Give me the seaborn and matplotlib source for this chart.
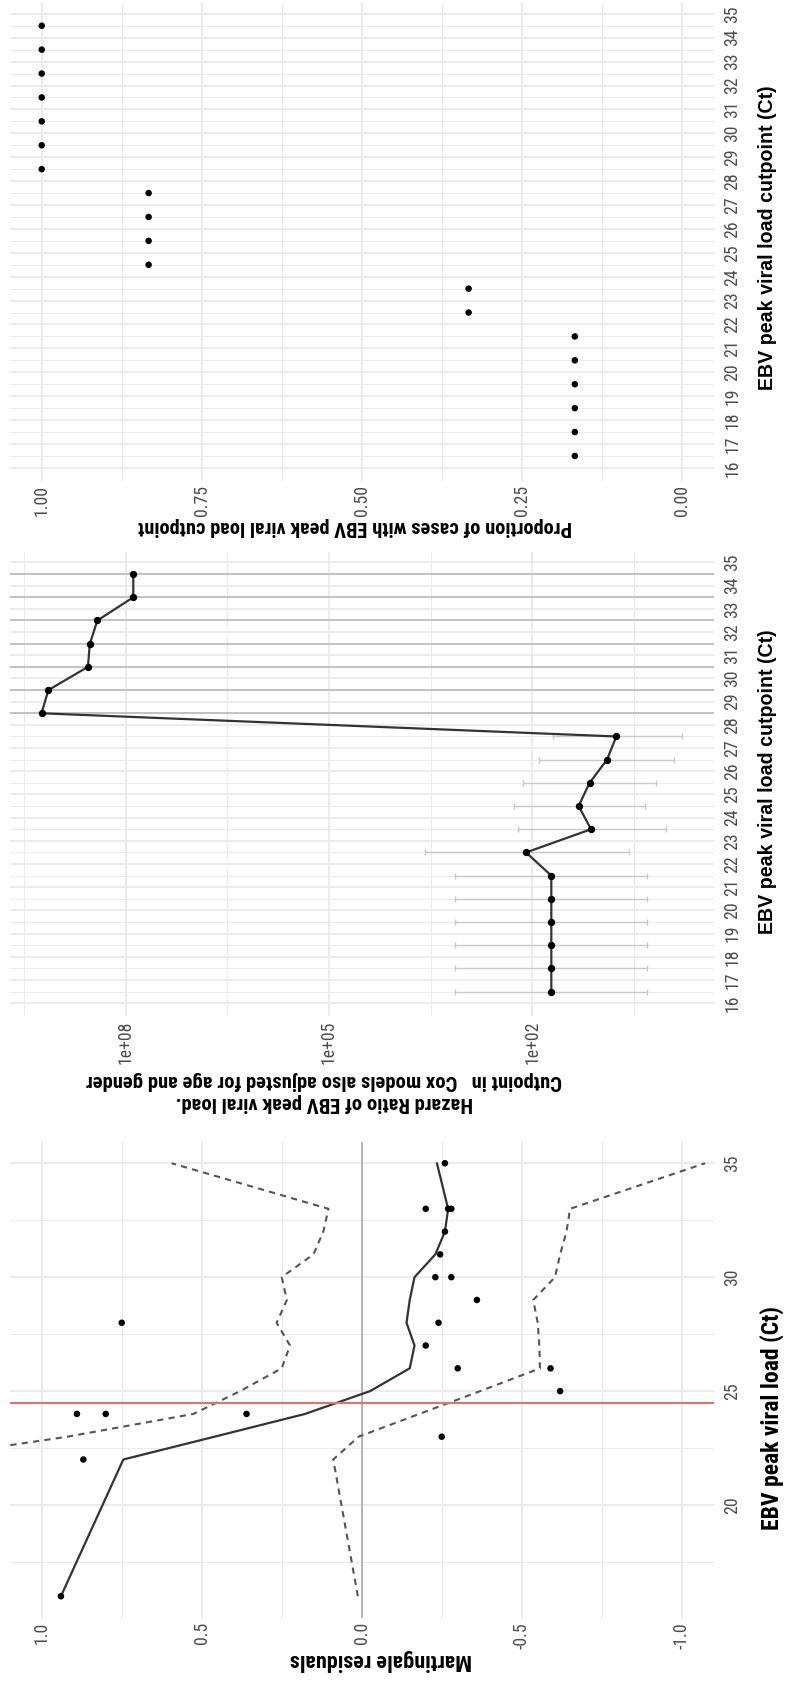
import os
import re
import numpy as np
import pandas as pd
import matplotlib
matplotlib.use('Agg')
import matplotlib.pyplot as plt
from matplotlib import font_manager
from matplotlib.font_manager import FontProperties
import seaborn as sns

# The source figure is a landscape, three-panel ggplot turned 90 degrees
# counter-clockwise, so Ct runs up the page and the response runs right-to-left.

# Panel 1: martingale residuals against EBV peak viral load
resid_ct = [16, 22, 23, 24, 24, 24, 25, 26, 26, 27, 28, 28, 29, 30, 30, 31, 32, 33, 33, 33, 35]
resid_val = [0.94, 0.87, -0.25, 0.89, 0.80, 0.36, -0.62, -0.30, -0.59, -0.20, 0.75, -0.24,
             -0.36, -0.23, -0.28, -0.245, -0.26, -0.20, -0.27, -0.28, -0.26]
smooth_ct = [16, 22, 23, 24, 25, 26, 27, 28, 29, 30, 31, 32, 33, 35]
smooth_fit = [0.94, 0.745, 0.46, 0.177, -0.026, -0.15, -0.165, -0.14, -0.15, -0.165, -0.23, -0.26, -0.27, -0.235]
smooth_upper = [1.87, 1.40, 0.92, 0.526, 0.38, 0.25, 0.224, 0.266, 0.234, 0.25, 0.151, 0.12, 0.104, 0.594]
smooth_lower = [0.012, 0.089, 0.01, -0.18, -0.37, -0.557, -0.555, -0.55, -0.536, -0.604, -0.62, -0.64, -0.651, -1.073]
cutpoint = 24.5
resid_ticks = [-1.0, -0.5, 0.0, 0.5, 1.0]
resid_labels = ['-1.0', '-0.5', '0.0', '0.5', '1.0']
ct_ticks = [20, 25, 30, 35]

# Panel 2: hazard ratio per cutpoint (NaN = unbounded interval)
cut_ct = [16.5, 17.5, 18.5, 19.5, 20.5, 21.5, 22.5, 23.5, 24.5, 25.5,
          26.5, 27.5, 28.5, 29.5, 30.5, 31.5, 32.5, 33.5, 34.5]
hr = [52.1, 52.1, 52.1, 52.1, 52.1, 52.1, 123, 13.5, 20.6, 14.2,
      7.85, 5.73, 1.74e9, 1.38e9, 3.6e8, 3.37e8, 2.61e8, 7.7e7, 7.7e7]
hr_low = [2.02, 2.02, 2.02, 2.02, 2.02, 2.02, 3.78, 1.06, 2.19, 1.47,
          0.80, 0.615, np.nan, np.nan, np.nan, np.nan, np.nan, np.nan, np.nan]
hr_high = [1358, 1358, 1358, 1358, 1358, 1358, 3846, 164, 188, 136,
           80, 50, np.nan, np.nan, np.nan, np.nan, np.nan, np.nan, np.nan]
hr_ticks = [1e2, 1e5, 1e8]
hr_labels = ['1e+02', '1e+05', '1e+08']
cut_ticks = [16, 17, 18, 19, 20, 21, 22, 23, 24, 25, 26, 27, 28, 29, 30, 31, 32, 33, 34, 35]

# Panel 3: proportion of cases above each cutpoint
prop = [0.167, 0.167, 0.167, 0.167, 0.167, 0.167, 0.333, 0.333, 0.833, 0.833,
        0.833, 0.833, 1.0, 1.0, 1.0, 1.0, 1.0, 1.0, 1.0]
prop_ticks = [0.0, 0.25, 0.5, 0.75, 1.0]
prop_labels = ['0.00', '0.25', '0.50', '0.75', '1.00']

sns.set_theme(style='white')
plt.rcParams['font.family'] = ['Liberation Sans', 'DejaVu Sans']


# look for a condensed sans file (tick labels and most titles are narrow in the reference)
def find_narrow(bold):
    skip = ('italic', 'oblique', 'light', 'thin', 'medium', 'black', 'semibold',
            'extrabold', 'extra', 'semi', 'ultra', 'heavy', 'mono')
    order = ['liberationsansnarrow', 'robotocondensed', 'notosans', 'dejavusans', 'opensans', 'arialnarrow']
    found = []
    for f in font_manager.fontManager.ttflist:
        base = os.path.basename(f.fname).lower().replace('_', '').replace('-', '')
        if not re.search('narrow|condensed', base):
            continue
        rest = base.replace('condensed', '').replace('narrow', '')
        if any(s in rest for s in skip):
            continue
        if ('bold' in rest) != bold:
            continue
        for i, key in enumerate(order):
            if base.startswith(key):
                found.append((i, f.fname))
    if found:
        return FontProperties(fname=sorted(found)[0][1])
    return FontProperties(family='Liberation Sans', weight='bold' if bold else 'normal')


fp_tick = find_narrow(False)
fp_cond = find_narrow(True)
fp_wide = FontProperties(family='Liberation Sans', weight='bold')

GRID = '#ebebeb'
TICK = '#4d4d4d'


def style_axis(ax, xticks, xlabels, yticks, ylabels, xminor, yminor):
    for s in ax.spines.values():
        s.set_visible(False)
    ax.set_xticks(xticks, xlabels, fontproperties=fp_tick, rotation=90, ha='center', va='top')
    ax.set_yticks(yticks, [str(t) for t in ylabels], fontproperties=fp_tick, rotation=90,
                  ha='left', va='center')
    ax.set_xticks(xminor, minor=True)
    ax.set_yticks(yminor, minor=True)
    ax.grid(True, which='major', color=GRID, lw=1.3)
    ax.grid(True, which='minor', color=GRID, lw=0.7)
    ax.set_axisbelow(True)
    ax.yaxis.tick_right()
    ax.tick_params(axis='both', which='both', length=0, colors=TICK)
    ax.tick_params(axis='y', pad=7)
    ax.tick_params(axis='x', pad=3)


def set_titles(ax, xtitle, xpos, ytitle, ypos, yfp):
    ax.set_xlabel(xtitle, rotation=180, fontproperties=fp_cond, color='black',
                  va='center', ha='center', multialignment='center', linespacing=1.2)
    ax.xaxis.set_label_coords(*xpos)
    ax.yaxis.set_label_position('right')
    ax.set_ylabel(ytitle, rotation=90, fontproperties=yfp, color='black', va='center', ha='center')
    ax.yaxis.set_label_coords(*ypos)


fig = plt.figure(figsize=(7.85, 16.95), dpi=100)
L, W = 0.0124, 0.8968
ax3 = fig.add_axes([L, 0.7162, W, 0.2820])
ax2 = fig.add_axes([L, 0.4006, W, 0.2737])
ax1 = fig.add_axes([L, 0.0455, W, 0.2810])

# ---- Panel 1
df_res = pd.DataFrame({'ct': resid_ct, 'resid': resid_val})
df_sm = pd.DataFrame({'ct': smooth_ct, 'fit': smooth_fit, 'upper': smooth_upper, 'lower': smooth_lower})
ax1.axvline(0, color='#aaaaaa', lw=1.2, zorder=1)
sns.lineplot(data=df_sm, x='upper', y='ct', orient='y', ax=ax1, color='#555555', lw=1.5,
             linestyle=(0, (3, 2.5)))
sns.lineplot(data=df_sm, x='lower', y='ct', orient='y', ax=ax1, color='#555555', lw=1.5,
             linestyle=(0, (3, 2.5)))
sns.lineplot(data=df_sm, x='fit', y='ct', orient='y', ax=ax1, color='#333333', lw=1.6)
sns.scatterplot(data=df_res, x='resid', y='ct', ax=ax1, color='black', s=22, edgecolor='none', zorder=5)
ax1.axhline(cutpoint, color='#d27a71', lw=1.6, zorder=4)
ax1.set_xlim(1.1, -1.1)
ax1.set_ylim(15.05, 35.95)
style_axis(ax1, resid_ticks, resid_labels, ct_ticks, ct_ticks,
           [-0.75, -0.25, 0.25, 0.75], [17.5, 22.5, 27.5, 32.5])
set_titles(ax1, 'Martingale residuals', (0.527, -0.088),
           'EBV peak viral load (Ct)', (1.083, 0.42), fp_cond)

# ---- Panel 2
df_hr = pd.DataFrame({'ct': cut_ct, 'hr': hr, 'low': hr_low, 'high': hr_high})
ax2.set_xscale('log')
fin = df_hr.dropna()
inf = df_hr[df_hr['low'].isna()]
for c in inf['ct']:
    ax2.axhline(c, color='#c2c2c2', lw=1.4, zorder=2)
ax2.errorbar(fin['hr'], fin['ct'], xerr=[fin['hr'] - fin['low'], fin['high'] - fin['hr']],
             fmt='none', ecolor='#c8c8c8', elinewidth=1.0, capsize=2.5, capthick=1.0, zorder=2)
sns.lineplot(data=df_hr, x='hr', y='ct', orient='y', ax=ax2, color='#333333', lw=1.6,
             marker='o', markersize=4.5, markeredgecolor='black', markerfacecolor='black', zorder=4)
ax2.set_xlim(10 ** 9.71, 10 ** -0.68)
ax2.set_ylim(15.45, 35.45)
style_axis(ax2, hr_ticks, hr_labels, cut_ticks, cut_ticks,
           [10 ** 0.5, 10 ** 3.5, 10 ** 6.5, 10 ** 9.5], [c for c in cut_ct])
ax2.xaxis.set_minor_formatter(matplotlib.ticker.NullFormatter())
set_titles(ax2, 'Hazard Ratio of EBV peak viral load.\nCutpoint in   Cox models also adjusted for age and gender',
           (0.447, -0.163), 'EBV peak viral load cutpoint (Ct)', (1.077, 0.505), fp_wide)

# ---- Panel 3
df_prop = pd.DataFrame({'ct': cut_ct, 'prop': prop})
sns.scatterplot(data=df_prop, x='prop', y='ct', ax=ax3, color='black', s=22, edgecolor='none', zorder=5)
ax3.set_xlim(1.05, -0.05)
ax3.set_ylim(15.45, 35.45)
style_axis(ax3, prop_ticks, prop_labels, cut_ticks, cut_ticks,
           [0.125, 0.375, 0.625, 0.875], [c for c in cut_ct])
set_titles(ax3, 'Proportion of cases with EBV peak viral load cutpoint', (0.49, -0.095),
           'EBV peak viral load cutpoint (Ct)', (1.077, 0.51), fp_wide)

for ax in (ax1, ax2, ax3):
    leg = ax.get_legend()
    if leg is not None:
        leg.remove()

# size the text so its length matches the reference (pixels)
renderer = fig.canvas.get_renderer()


def fit(txt, target, along):
    txt.set_fontsize(12)
    bb = txt.get_window_extent(renderer)
    cur = bb.width if along == 'w' else bb.height
    txt.set_fontsize(12 * target / cur)


fit(ax1.xaxis.label, 183, 'w')
fit(ax2.xaxis.label, 476, 'w')
fit(ax3.xaxis.label, 435, 'w')
fit(ax1.yaxis.label, 225, 'h')
fit(ax2.yaxis.label, 303, 'h')
fit(ax3.yaxis.label, 303, 'h')

for ax in (ax1, ax2, ax3):
    probe = ax.get_yticklabels()[-1]
    probe.set_fontsize(12)
    size = 12 * 17.5 / probe.get_window_extent(renderer).height
    ax.tick_params(axis='both', labelsize=size)

fig.savefig('out.png', dpi=100)
